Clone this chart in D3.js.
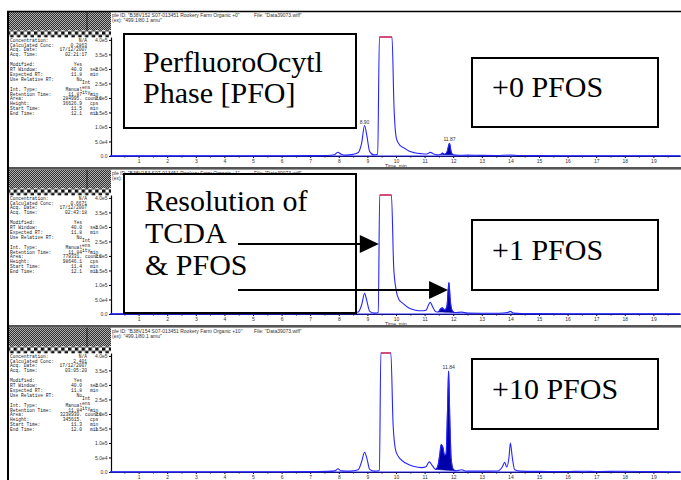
<!DOCTYPE html>
<html>
<head>
<meta charset="utf-8">
<script src="https://cdn.jsdelivr.net/npm/d3@7"></script>
<style>
body { margin: 0; background: #fff; }
svg { display: block; }
</style>
</head>
<body>
<div id="chart"></div>
<script>

// XIC traces, [time (min), intensity (cps)]
var traceP0 = [[0,600],[1,500],[2,600],[3,500],[4,700],[5,600],[6,800],[7,1200],[7.6,1800],[7.85,4500],[7.97,13000],[8.08,6000],[8.25,3000],[8.5,5500],[8.68,12000],[8.8,45000],[8.9,105000],[8.98,70000],[9.08,15000],[9.22,4000],[9.36,6000],[9.42,950000],[9.86,880000],[9.93,170000],[10.02,58000],[10.15,36000],[10.3,27000],[10.45,17000],[10.65,11000],[10.9,8000],[11.08,7000],[11.2,12500],[11.32,7000],[11.45,4000],[11.55,5000],[11.62,10000],[11.7,6000],[11.79,16000],[11.87,44000],[11.93,14000],[12.0,4000],[12.2,2500],[12.5,3000],[13,2000],[13.5,1800],[14,3500],[14.3,1500],[15,1200],[16,1000],[17,1000],[18,900],[19,800],[19.93,800]];

var traceP1 = [[0,600],[1,500],[2,600],[3,500],[4,700],[5,600],[6,800],[7,1200],[7.6,1500],[7.87,3000],[7.97,7000],[8.08,3000],[8.4,2500],[8.68,7000],[8.8,32000],[8.9,71000],[8.98,45000],[9.08,9000],[9.25,3000],[9.38,5000],[9.43,950000],[9.84,880000],[9.92,160000],[10.0,85000],[10.1,50000],[10.25,36000],[10.45,21000],[10.65,14000],[10.9,11000],[11.05,13000],[11.14,32000],[11.2,40000],[11.27,27000],[11.38,9000],[11.48,7000],[11.56,18000],[11.62,21000],[11.7,14000],[11.78,26000],[11.85,108000],[11.9,45000],[11.97,11000],[12.05,5000],[12.3,6500],[12.5,3000],[13,2500],[13.6,2500],[13.9,5000],[14.0,9000],[14.1,3000],[14.4,1500],[15,1200],[16,1000],[17,1000],[18,900],[19,800],[19.93,800]];

var traceP10 = [[0,600],[1,500],[2,600],[3,500],[4,700],[5,600],[6,800],[7,1200],[7.6,2000],[7.87,4000],[7.97,11000],[8.08,4000],[8.4,3000],[8.68,8000],[8.8,36000],[8.9,68000],[8.98,48000],[9.08,9000],[9.25,3000],[9.42,5000],[9.47,950000],[9.82,880000],[9.9,160000],[10.0,70000],[10.15,45000],[10.35,30000],[10.6,20000],[10.9,15000],[11.05,18000],[11.16,35000],[11.27,22000],[11.38,9000],[11.46,20000],[11.53,60000],[11.58,95000],[11.64,85000],[11.7,58000],[11.75,62000],[11.8,210000],[11.84,348000],[11.88,190000],[11.93,45000],[12.0,10000],[12.1,4000],[12.3,7500],[12.45,3000],[13,3000],[13.55,3500],[13.72,18000],[13.8,33000],[13.87,17000],[13.95,50000],[14.0,100000],[14.06,55000],[14.15,8000],[14.35,3000],[15,2000],[16,1500],[16.6,2500],[17,1500],[18,2500],[19,1200],[19.93,1000]];

// integrated PFOS windows (start, end in min)
var windowP0 = [11.55, 12.0];
var windowP1 = [11.48, 12.05];
var windowP10 = [11.38, 12.1];

// apex labels
var apexP0 = [[8.9, "8.90"], [11.87, "11.87"]];
var apexP1 = [];
var apexP10 = [[11.84, "11.84"]];

var xTicks = [1,2,3,4,5,6,7,8,9,10,11,12,13,14,15,16,17,18,19];
var xMinorTicks = [0.5,1.5,2.5,3.5,4.5,5.5,6.5,7.5,8.5,9.5,10.5,11.5,12.5,13.5,14.5,15.5,16.5,17.5,18.5,19.5];
var yTicks = [0, 50000, 100000, 150000, 200000, 250000, 300000, 350000, 400000];
var yTickLabels = ["0.0","5.0e4","1.0e5","1.5e5","2.0e5","2.5e5","3.0e5","3.5e5","4.0e5"];
var yMax = 410000;

var sampleIds = ['ple ID: "B38V152 S07-013451 Rookery Farm Organic +0"',
                 'ple ID: "B38V153 S07-013451 Rookery Farm Organic +1"',
                 'ple ID: "B38V154 S07-013451 Rookery Farm Organic +10"'];
var fileLabel = 'File: "Data39073.wiff"';
var massLabel = '(ex): "499.1/80.1 amu"';

// results table on the left of each run
var infoLabels = ["Concentration:", "Calculated Conc:", "Acq. Date:", "Acq. Time:", "",
                  "Modified:", "RT Window:", "Expected RT:", "Use Relative RT:", "",
                  "Int. Type:", "Retention Time:", "Area:", "Height:", "Start Time:", "End Time:"];
var infoUnits = ["", "", "", "", "", "", "sec", "min", "", "", "", "min", "counts", "cps", "min", "min"];
var infoP0 = ["N/A", "0.2863", "17/12/2007", "02:21:17", "", "Yes", "40.0", "11.8", "No", "", "Manual", "11.87", "284995.", "36626.9", "11.5", "12.1"];
var infoP1 = ["N/A", "0.6671", "17/12/2007", "02:43:18", "", "Yes", "40.0", "11.8", "No", "", "Manual", "11.84", "778331.", "98646.1", "11.4", "12.1"];
var infoP10 = ["N/A", "2.401", "17/12/2007", "03:05:20", "", "Yes", "40.0", "11.8", "No", "", "Manual", "11.84", "3238930.", "345615.", "11.3", "12.0"];

var boxTitle = ["PerfluoroOcytl", "Phase [PFO]"];
var boxResolution = ["Resolution of", "TCDA", "& PFOS"];
var spikeLabels = ["+0 PFOS", "+1 PFOS", "+10 PFOS"];

var SERIF = "Liberation Serif", SANS = "Liberation Sans", MONO = "Liberation Mono";

var svg = d3.select("#chart").append("svg")
    .attr("width", 681)
    .attr("height", 480);

var defs = svg.append("defs");

// grey dithered header
var dots = defs.append("pattern").attr("id", "dots")
    .attr("patternUnits", "userSpaceOnUse").attr("width", 2).attr("height", 2);
dots.append("rect").attr("width", 2).attr("height", 2).attr("fill", "#b0b0b0");
dots.append("rect").attr("width", 1).attr("height", 1).attr("fill", "#303030");
dots.append("rect").attr("x", 1).attr("y", 1).attr("width", 1).attr("height", 1).attr("fill", "#303030");

// black / white checker strip
var checks = defs.append("pattern").attr("id", "checks")
    .attr("patternUnits", "userSpaceOnUse").attr("width", 6.8).attr("height", 6.8);
checks.append("rect").attr("width", 6.8).attr("height", 6.8).attr("fill", "#fff");
checks.append("rect").attr("width", 3.4).attr("height", 3.4).attr("fill", "#111");
checks.append("rect").attr("x", 3.4).attr("y", 3.4).attr("width", 3.4).attr("height", 3.4).attr("fill", "#111");

var x = d3.scaleLinear().domain([0, 19.93]).range([110, 680]);

var panels = [
  {top: 11,  trace: traceP0,  win: windowP0,  apex: apexP0,  info: infoP0,  id: sampleIds[0], showTime: true},
  {top: 169, trace: traceP1,  win: windowP1,  apex: apexP1,  info: infoP1,  id: sampleIds[1], showTime: true},
  {top: 327, trace: traceP10, win: windowP10, apex: apexP10, info: infoP10, id: sampleIds[2], showTime: false}
];

var baseY = 145, topY = 26;

function small(sel) {
  return sel.attr("font-family", SANS).attr("font-size", 5).attr("fill", "#333");
}
function mono(sel) {
  return sel.attr("font-family", MONO).attr("font-size", 4.6).attr("fill", "#222");
}

panels.forEach(function(p, k) {

  var g = svg.append("g").attr("transform", "translate(0," + p.top + ")");
  var y = d3.scaleLinear().domain([0, yMax]).range([baseY, topY]);

  // header text of the plot
  small(g.append("text").attr("x", 112).attr("y", 5.5)).text(p.id);
  small(g.append("text").attr("x", 254).attr("y", 5.5)).text(fileLabel);
  small(g.append("text").attr("x", 112).attr("y", 11)).text(massLabel);

  // Y axis
  var ya = g.append("g").attr("transform", "translate(111,0)")
      .call(d3.axisLeft(y).tickValues(yTicks)
        .tickFormat(function(d, i) { return yTickLabels[i]; })
        .tickSize(2).tickSizeOuter(0).tickPadding(1.5));
  ya.attr("font-family", SANS).attr("font-size", 5);
  ya.selectAll("text").attr("fill", "#333");
  ya.select(".domain").attr("stroke", "#000").attr("stroke-width", 1.2);

  // X axis
  var xa = g.append("g").attr("transform", "translate(0," + baseY + ")")
      .call(d3.axisBottom(x).tickValues(xTicks).tickSize(2).tickSizeOuter(0).tickPadding(1.5)
        .tickFormat(d3.format("d")));
  xa.attr("font-family", SANS).attr("font-size", 5);
  xa.selectAll("text").attr("fill", "#333");
  xa.select(".domain").attr("stroke", "#000");
  g.append("g").attr("transform", "translate(0," + baseY + ")")
      .call(d3.axisBottom(x).tickValues(xMinorTicks).tickSize(1.5).tickSizeOuter(0).tickFormat(""))
      .select(".domain").remove();

  if (p.showTime) {
    small(g.append("text").attr("x", x(10)).attr("y", baseY + 12)
        .attr("text-anchor", "middle")).text("Time, min");
  }

  // integrated peak
  var inWin = p.trace.filter(function(d) { return d[0] >= p.win[0] && d[0] <= p.win[1]; });
  var a0 = inWin[0], a1 = inWin[inWin.length - 1];
  var baseAt = function(t) { return a0[1] + (a1[1] - a0[1]) * (t - a0[0]) / (a1[0] - a0[0]); };
  g.append("path").datum(inWin)
      .attr("fill", "#0000a8")
      .attr("stroke", "#0000a8").attr("stroke-width", 0.6)
      .attr("d", d3.area().curve(d3.curveMonotoneX)
        .x(function(d) { return x(d[0]); })
        .y0(function(d) { return y(baseAt(d[0])); })
        .y1(function(d) { return y(Math.min(d[1], yMax)); }));

  // trace
  g.append("path").datum(p.trace)
      .attr("fill", "none")
      .attr("stroke", "#2525ff").attr("stroke-width", 1.1)
      .attr("d", d3.line().curve(d3.curveMonotoneX)
        .x(function(d) { return x(d[0]); })
        .y(function(d) { return y(Math.min(d[1], yMax)); }));

  // saturated top drawn red
  var sat = p.trace.filter(function(d) { return d[1] >= yMax; });
  if (sat.length) {
    g.append("line")
        .attr("x1", x(sat[0][0])).attr("x2", x(sat[sat.length - 1][0]))
        .attr("y1", y(yMax)).attr("y2", y(yMax))
        .attr("stroke", "#ff2020").attr("stroke-width", 1.2);
  }

  // baseline overlay
  g.append("line").attr("x1", 111).attr("x2", 681).attr("y1", baseY).attr("y2", baseY)
      .attr("stroke", "#2525ff").attr("stroke-width", 1.2);

  small(g.selectAll(".apex").data(p.apex).enter().append("text"))
      .attr("x", function(d) { return x(d[0]); })
      .attr("y", function(d) {
        var pt = p.trace.filter(function(q) { return q[0] === d[0]; })[0];
        return y(pt[1]) - 2;
      })
      .attr("text-anchor", "middle")
      .text(function(d) { return d[1]; });

  // left results panel
  mono(g.selectAll(".lab").data(infoLabels).enter().append("text"))
      .attr("x", 10).attr("y", function(d, i) { return 30.6 + i * 4.9; })
      .text(function(d) { return d; });
  mono(g.selectAll(".val").data(p.info).enter().append("text"))
      .attr("x", function(d, i) { return i < 4 ? 87 : 82; })
      .attr("y", function(d, i) { return 30.6 + i * 4.9; })
      .attr("text-anchor", "end")
      .text(function(d) { return d; });
  mono(g.selectAll(".unit").data(infoUnits).enter().append("text"))
      .attr("x", function(d) { return d === "counts" ? 85 : 90; })
      .attr("y", function(d, i) { return 30.6 + i * 4.9; })
      .text(function(d) { return d; });
  ["Int", "ens", "ity,"].forEach(function(s, i) {
    mono(g.append("text").attr("x", 82).attr("y", 73 + i * 5)).text(s);
  });

  g.append("rect").attr("x", 9).attr("y", 0.5).attr("width", 102).attr("height", 19).attr("fill", "url(#dots)");
  g.append("line").attr("x1", 87).attr("x2", 87).attr("y1", 0.5).attr("y2", 19.5)
      .attr("stroke", "#111").attr("stroke-width", 0.8);
  g.append("rect").attr("x", 9).attr("y", 19.5).attr("width", 102).attr("height", 6.8).attr("fill", "url(#checks)");
});

// annotation boxes
function box(x0, y0, w, h) {
  svg.append("rect").attr("x", x0).attr("y", y0).attr("width", w).attr("height", h)
      .attr("fill", "#fff").attr("stroke", "#000").attr("stroke-width", 2);
}
function big(txt, x0, y0) {
  svg.append("text").attr("x", x0).attr("y", y0)
      .attr("font-family", SERIF).attr("font-size", 30)
      .attr("fill", "#000").text(txt);
}

box(124, 34, 232, 94);
big(boxTitle[0], 143, 72);
big(boxTitle[1], 143, 103);
box(472, 58, 186, 69);
big(spikeLabels[0], 492, 97);

box(124, 174, 232, 139);
boxResolution.forEach(function(s, i) { big(s, 145, 211 + i * 32); });
box(472, 220, 186, 70);
big(spikeLabels[1], 492, 260);

box(472, 359, 186, 70);
big(spikeLabels[2], 492, 399);

// arrows to the unresolved TCDA / PFOS peaks
function arrow(x0, x1, yy) {
  svg.append("line").attr("x1", x0).attr("x2", x1 - 18).attr("y1", yy).attr("y2", yy)
      .attr("stroke", "#000").attr("stroke-width", 1.8);
  svg.append("path")
      .attr("d", "M" + x1 + "," + yy + "L" + (x1 - 19) + "," + (yy - 9) + "L" + (x1 - 19) + "," + (yy + 9) + "Z")
      .attr("fill", "#000");
}
arrow(238, x(9.4), 244);
arrow(238, x(11.82), 290);

// frame
svg.append("line").attr("x1", 7).attr("x2", 681).attr("y1", 11.5).attr("y2", 11.5)
    .attr("stroke", "#000").attr("stroke-width", 1.5);
svg.append("rect").attr("x", 7).attr("y", 167).attr("width", 674).attr("height", 2.6).attr("fill", "#555");
svg.append("rect").attr("x", 7).attr("y", 325).attr("width", 674).attr("height", 2.6).attr("fill", "#555");
svg.append("line").attr("x1", 8).attr("x2", 8).attr("y1", 11).attr("y2", 480)
    .attr("stroke", "#000").attr("stroke-width", 2);

</script>
</body>
</html>
